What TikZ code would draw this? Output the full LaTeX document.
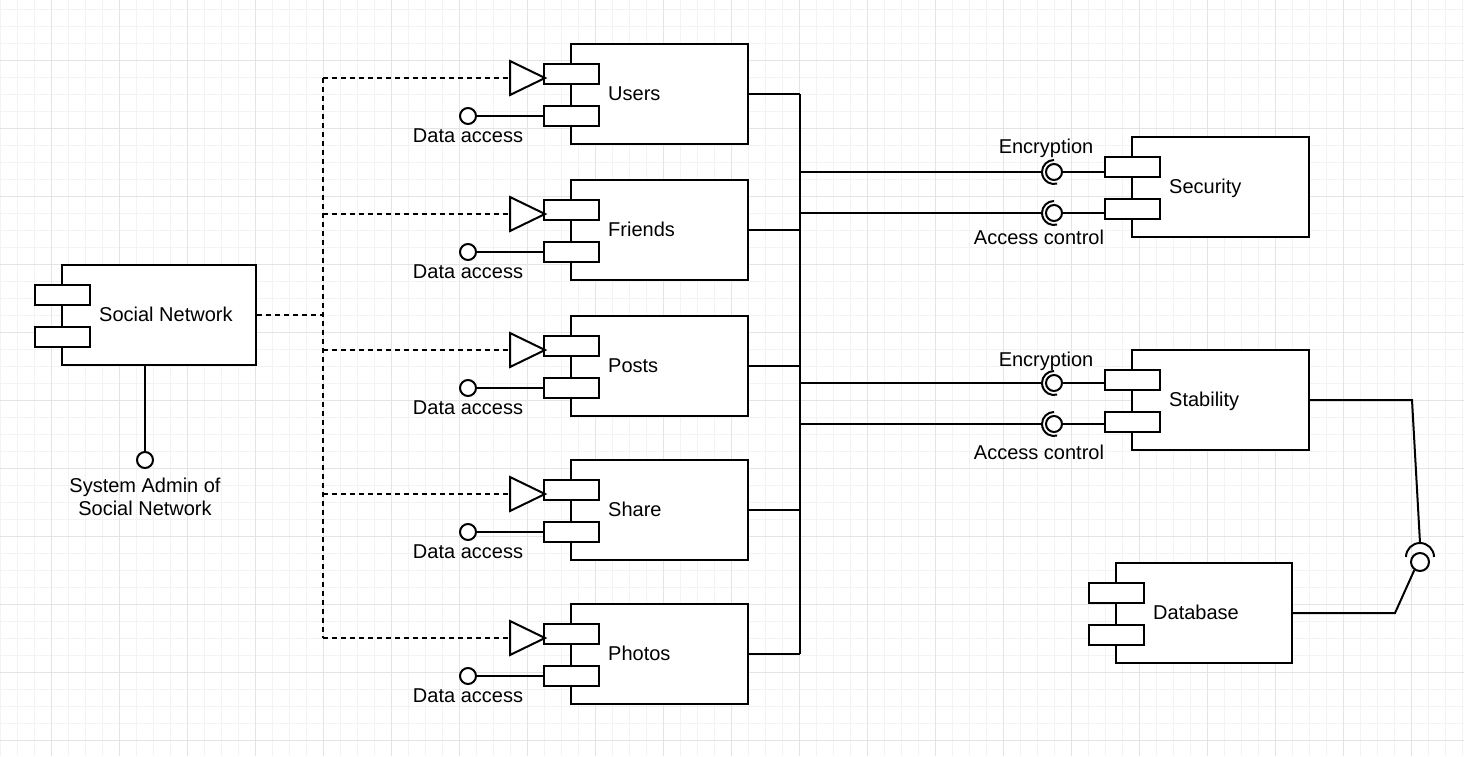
\documentclass[tikz,border=0pt]{standalone}
\usepackage{fontspec}
\setmainfont{Liberation Sans}
\usetikzlibrary{arrows.meta,calc,positioning}
\definecolor{gridminor}{HTML}{F3F3F3}
\definecolor{gridmajor}{HTML}{E4E4E4}
% component: name, left x, top y, width, label
\newcommand{\comp}[5]{%
  \node[compbox,minimum width=#4] (#1) at (#2+#4/2,#3+50) {};
  \node[port] (#1pa) at (#2,#3+30) {};
  \node[port] (#1pb) at (#2,#3+72) {};
  \node[lbl,anchor=west] (#1t) at (#2+37,#3+49.5) {#5};
}
% provided triangle and data access lollipop of a component
\newcommand{\feat}[3]{%
  \coordinate (#1tri) at (#2-61,#3+34);
  \draw[wire,fill=white] (#2-61,#3+17) -- (#2-26,#3+34) -- (#2-61,#3+51) -- cycle;
  \node[lolli] (#1da) at (#2-103,#3+72) {};
  \draw[wire] (#1da) -- (#1da -| #1pb.west);
  \node[lbl] (#1dat) at (#2-103,#3+91.5) {Data access};
}
% required socket: name, x, y, port
\newcommand{\sock}[4]{%
  \node[lolli] (#1) at (#2,#3) {};
  \draw[wire] ([shift={(0,-12)}]#1.center) arc[start angle=270,end angle=75,radius=12];
  \draw[wire] (bus |- #1) -- ([shift={(-12,0)}]#1.center);
  \draw[wire] (#1) -- (#1 -| #4.west);
}

\begin{document}
\begin{tikzpicture}[x=1pt,y=-1pt,>=Stealth,font=\fontsize{20}{23}\selectfont,
  compbox/.style={draw,line width=2pt,fill=white,minimum height=100pt,inner sep=0pt},
  port/.style={draw,line width=2pt,fill=white,minimum width=55pt,minimum height=20pt,inner sep=0pt},
  lolli/.style={draw,circle,line width=2pt,fill=white,minimum size=16pt,inner sep=0pt},
  lbl/.style={inner sep=0pt,text height=14.3pt,text depth=0pt},
  wire/.style={line width=2pt},
  dep/.style={line width=2pt,dash pattern=on 5pt off 4pt}]
% background grid
\fill[white] (0,0) rectangle (1464,756);
\useasboundingbox (0,0) rectangle (1464,756);
\foreach \gx in {0,17,...,1462} \draw[gridminor,line width=1pt] (\gx,0) -- (\gx,756);
\foreach \gy in {9,26,...,754} \draw[gridminor,line width=1pt] (0,\gy) -- (1464,\gy);
\foreach \gx in {51,119,...,1462} \draw[gridmajor,line width=1pt] (\gx,0) -- (\gx,756);
\foreach \gy in {60,128,...,754} \draw[gridmajor,line width=1pt] (0,\gy) -- (1464,\gy);
\coordinate (trunk) at (323,0);
\coordinate (bus) at (800,0);

% components
\comp{sn}{62}{265}{194}{Social Network}
\comp{users}{571}{44}{177}{Users}
\comp{friends}{571}{180}{177}{Friends}
\comp{posts}{571}{316}{177}{Posts}
\comp{share}{571}{460}{177}{Share}
\comp{photos}{571}{604}{177}{Photos}
\comp{security}{1132}{137}{177}{Security}
\comp{stability}{1132}{350}{177}{Stability}
\comp{database}{1116}{563}{176}{Database}
\feat{users}{571}{44}
\feat{friends}{571}{180}
\feat{posts}{571}{316}
\feat{share}{571}{460}
\feat{photos}{571}{604}

% system admin lollipop
\node[lolli] (snlol) at (145,460) {};
\draw[wire] (snlol |- sn.south) -- (snlol);
\node[inner sep=0pt,align=center] (snlbl) at (145,497) {System Admin of\\Social Network};

% dashed dependencies
\draw[dep] (sn.east) -- (trunk |- sn.east);
\draw[dep] (trunk |- userstri) -- (trunk |- photostri);
\draw[dep] (trunk |- userstri) -- (userstri);
\draw[dep] (trunk |- friendstri) -- (friendstri);
\draw[dep] (trunk |- poststri) -- (poststri);
\draw[dep] (trunk |- sharetri) -- (sharetri);
\draw[dep] (trunk |- photostri) -- (photostri);

% bus on the right
\draw[wire] (bus |- users.east) -- (bus |- photos.east);
\draw[wire] (users.east) -- (bus |- users.east);
\draw[wire] (friends.east) -- (bus |- friends.east);
\draw[wire] (posts.east) -- (bus |- posts.east);
\draw[wire] (share.east) -- (bus |- share.east);
\draw[wire] (photos.east) -- (bus |- photos.east);

% sockets of security and stability
\sock{secenc}{1054}{172}{securitypa}
\sock{secacc}{1054}{213}{securitypb}
\sock{stbenc}{1054}{383}{stabilitypa}
\sock{stbacc}{1054}{424}{stabilitypb}
\node[lbl] (secenct) at (1046,146) {Encryption};
\node[lbl] (secacct) at (1039,237) {Access control};
\node[lbl] (stbenct) at (1046,359) {Encryption};
\node[lbl] (stbacct) at (1039,452) {Access control};

% stability to database
\node[lolli,minimum size=18pt] (dbsock) at (1420,562) {};
\draw[wire] ([shift={(-14,-5)}]dbsock.center) arc[start angle=180,end angle=360,radius=14];
\coordinate (kneeA) at (1412,400);
\coordinate (kneeB) at (1395,613);
\draw[wire] (stability.east) -- (kneeA) -- ([shift={(0,-19)}]dbsock.center);
\draw[wire] (dbsock.235) -- (kneeB) -- (database.east);
\end{tikzpicture}
\end{document}
